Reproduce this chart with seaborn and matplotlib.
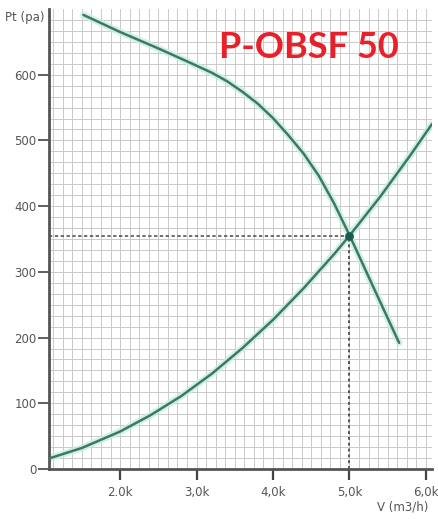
import numpy as np
import pandas as pd
import matplotlib
matplotlib.use("Agg")
import matplotlib.pyplot as plt
import seaborn as sns

# values
fan_flow = [1520, 2000, 2500, 2920, 3200, 3400, 3600, 3800, 4000, 4200, 4400, 4600, 4800, 5000, 5300, 5650]
fan_pressure = [691, 665, 640, 618, 603, 590, 574, 556, 534, 508, 480, 446, 404, 356, 280, 192]
sys_flow = [1070, 1500, 2000, 2400, 2800, 3200, 3600, 4000, 4400, 4800, 5000, 5400, 5800, 6080]
sys_pressure = [16, 32, 57, 82, 111, 145, 184, 227, 275, 327, 355, 414, 478, 525]
duty_flow = 5000
duty_pressure = 355
x_ticks = [2000, 3000, 4000, 5000, 6000]
x_labels = ["2.0k", "3,0k", "4,0k", "5,0k", "6,0k"]
y_ticks = [0, 100, 200, 300, 400, 500, 600]
title = "P-OBSF 50"

fan = pd.DataFrame({"V": fan_flow, "Pt": fan_pressure})
syst = pd.DataFrame({"V": sys_flow, "Pt": sys_pressure})

sns.set_style("white")
plt.rcParams["font.family"] = ["DejaVu Sans"]

fig = plt.figure(figsize=(4.38, 5.19), dpi=100)
ax = fig.add_axes((49 / 438, 1 - 469 / 519, 383 / 438, 460 / 519))

xmin, xmax = 1070, 6080
ymin, ymax = 0, 700
ax.set_xlim(xmin, xmax)
ax.set_ylim(ymin, ymax)

# background grid (finer than the ticks)
for gx in np.arange(1000, xmax, 125):
    if gx > xmin:
        ax.axvline(gx, color="#cacaca", lw=0.7, zorder=0)
for gy in np.arange(0, ymax, 100 / 6):
    if gy > 0:
        ax.axhline(gy, color="#cacaca", lw=0.7, zorder=0)

# soft glow behind the curves
for df in (fan, syst):
    sns.lineplot(data=df, x="V", y="Pt", ax=ax, color="#c6efdc", lw=5, alpha=0.8, zorder=2)
    sns.lineplot(data=df, x="V", y="Pt", ax=ax, color="#3f7767", lw=1.8, zorder=3)

# duty point guides
ax.plot([xmin, duty_flow], [duty_pressure, duty_pressure], ls=(0, (2, 1.5)), color="#555555", lw=1.2, zorder=4)
ax.plot([duty_flow, duty_flow], [0, duty_pressure], ls=(0, (1.5, 1.5)), color="#555555", lw=1.4, zorder=4)
ax.scatter([duty_flow], [duty_pressure], s=28, color="#1d5a4e", zorder=5)

ax.set_xticks(x_ticks)
ax.set_xticklabels(x_labels)
ax.set_yticks(y_ticks)
ax.tick_params(axis="x", bottom=True, direction="out", length=8, width=1.6, color="#444444",
               labelsize=8.5, labelcolor="#555555", pad=4)
ax.tick_params(axis="y", left=True, direction="out", length=8, width=1.2, color="#444444",
               labelsize=8.5, labelcolor="#555555", pad=1)
ax.set_xlabel("")
ax.set_ylabel("")

for s in ("top", "right"):
    ax.spines[s].set_visible(False)
for s in ("left", "bottom"):
    ax.spines[s].set_color("#555555")
    ax.spines[s].set_linewidth(2)

fig.text(5 / 438, 1 - 17 / 519, "Pt (pa)", fontsize=8.5, color="#555555", ha="left", va="center")
fig.text(428 / 438, 1 - 507 / 519, "V (m3/h)", fontsize=8.5, color="#555555", ha="right", va="center")
fig.text(309 / 438, 1 - 48 / 519, title, fontsize=26, fontweight="bold", color="#e8202a",
         family=["Lato", "DejaVu Sans"], ha="center", va="center")

fig.savefig("out.png", dpi=100)
